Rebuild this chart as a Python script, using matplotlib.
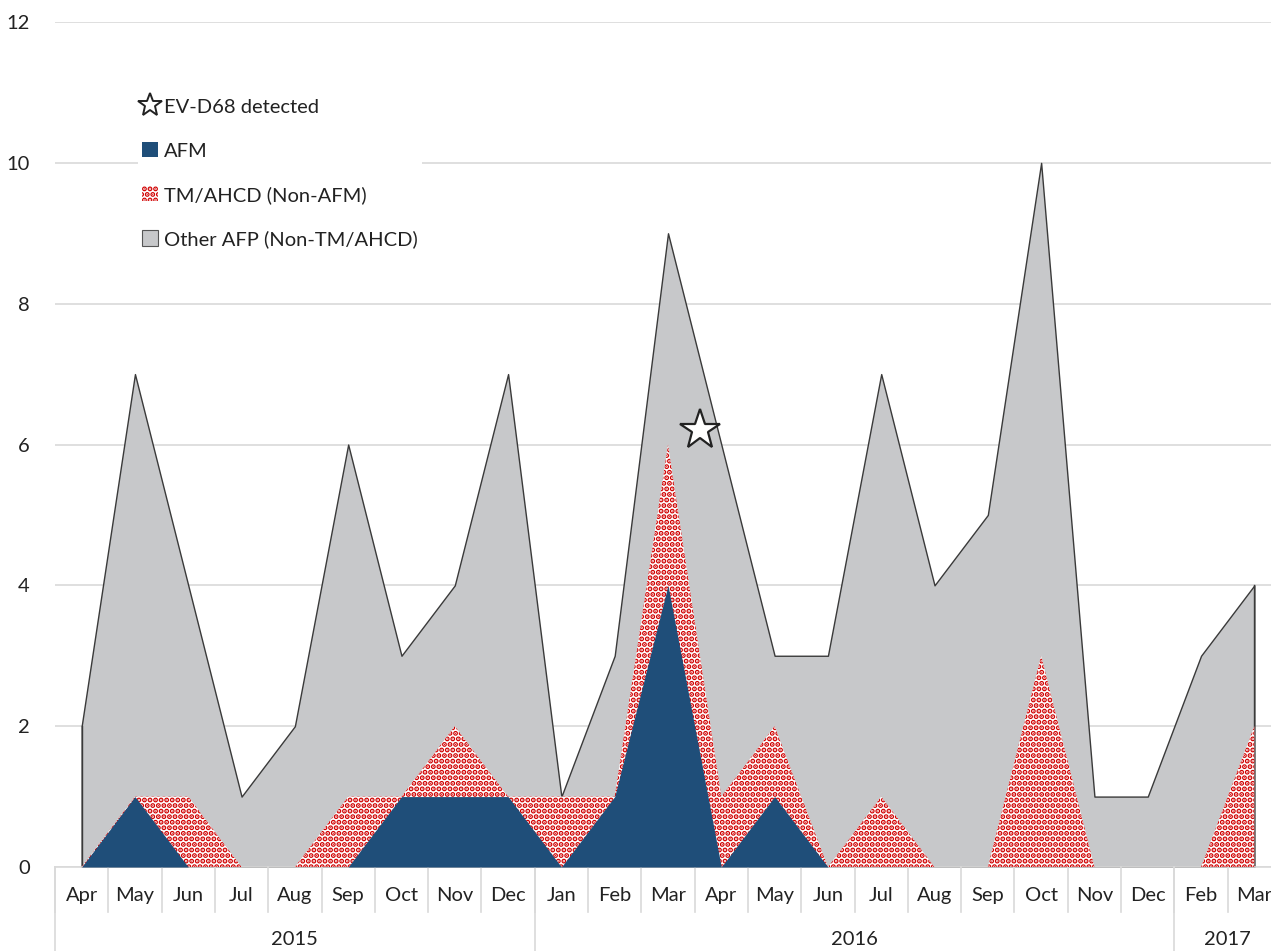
import matplotlib.pyplot as plt
from matplotlib.patches import Patch
from matplotlib.lines import Line2D

plt.rcParams['font.family'] = ['Lato', 'DejaVu Sans']
plt.rcParams['hatch.linewidth'] = 2.6

# data
months = ['Apr', 'May', 'Jun', 'Jul', 'Aug', 'Sep', 'Oct', 'Nov', 'Dec',
          'Jan', 'Feb', 'Mar', 'Apr', 'May', 'Jun', 'Jul', 'Aug', 'Sep', 'Oct', 'Nov', 'Dec',
          'Feb', 'Mar']
years = ['2015', '2016', '2017']
year_counts = [9, 12, 2]
other_afp = [2, 7, 4, 1, 2, 6, 3, 4, 7, 1, 3, 9, 6, 3, 3, 7, 4, 5, 10, 1, 1, 3, 4]
tm_ahcd = [0, 1, 1, 0, 0, 1, 1, 2, 1, 1, 1, 6, 1, 2, 0, 1, 0, 0, 3, 0, 0, 0, 2]
afm = [0, 1, 0, 0, 0, 0, 1, 1, 1, 0, 1, 4, 0, 1, 0, 0, 0, 0, 0, 0, 0, 0, 0]
ev_d68_x = 11.6
ev_d68_y = 6.2

x = list(range(len(months)))
FS = 14.5

fig = plt.figure(figsize=(12.71, 9.51), dpi=100)
ax = fig.add_axes([55 / 1271, 84 / 951, 1226 / 1271, 845 / 951])

# areas overlap (not stacked)
ax.fill_between(x, other_afp, color='#c7c8ca', edgecolor='#3a3a3a', linewidth=1.0, zorder=2)
ax.plot([x[0], x[0]], [0, other_afp[0]], color='#3a3a3a', lw=1.0, zorder=2)
ax.plot([x[-1], x[-1]], [0, other_afp[-1]], color='#3a3a3a', lw=1.0, zorder=2)
ax.fill_between(x, tm_ahcd, facecolor='white', edgecolor='#d00000', hatch='...',
                linewidth=0, zorder=3)
ax.fill_between(x, afm, color='#1f4e79', linewidth=0, zorder=4)
ax.plot([ev_d68_x], [ev_d68_y], marker='*', ms=30, mfc='white', mec='#222222', mew=1.6,
        zorder=5, clip_on=False)

ax.set_xlim(-0.5, len(months) - 0.5)
ax.set_ylim(0, 12)
ax.set_yticks(range(0, 13, 2))
ax.yaxis.grid(True, color='#d9d9d9', linewidth=1.2, zorder=0)
ax.set_axisbelow(True)
for s in ['top', 'right', 'left']:
    ax.spines[s].set_visible(False)
ax.spines['bottom'].set_color('#d9d9d9')
ax.spines['bottom'].set_linewidth(1.2)
ax.tick_params(axis='y', length=0, pad=18, labelsize=FS, labelcolor='#222222')
ax.set_xticks([])

# multi-level category axis
tr = ax.get_xaxis_transform()
for i, m in enumerate(months):
    ax.text(i, -0.034, m, transform=tr, ha='center', va='center', fontsize=FS, color='#222222')
for i in range(len(months) + 1):
    ax.plot([i - 0.5, i - 0.5], [0, -0.053], transform=tr, color='#d9d9d9', lw=1.2, clip_on=False)
start = 0
for yr, n in zip(years, year_counts):
    ax.plot([start - 0.5, start - 0.5], [0, -0.11], transform=tr, color='#d9d9d9', lw=1.2, clip_on=False)
    ax.text(start + (n - 1) / 2, -0.086, yr, transform=tr, ha='center', va='center',
            fontsize=FS, color='#222222')
    start += n

handles = [
    Line2D([], [], marker='*', ls='none', ms=18, mfc='white', mec='#222222', mew=1.4),
    Patch(facecolor='#1f4e79'),
    Patch(facecolor='white', edgecolor='#d00000', hatch='...', linewidth=0),
    Patch(facecolor='#c7c8ca', edgecolor='#555555', linewidth=0.8),
]
labels = ['EV-D68 detected', 'AFM', 'TM/AHCD (Non-AFM)', 'Other AFP (Non-TM/AHCD)']
leg = fig.legend(handles, labels, loc='upper left', bbox_to_anchor=(128 / 1271, 1 - 84 / 951),
                 frameon=True, facecolor='white', edgecolor='none', framealpha=1,
                 fontsize=FS, labelspacing=1.3, handlelength=0.8, handleheight=0.8,
                 handletextpad=0.3, borderpad=0.2, labelcolor='#222222')

fig.savefig('out.png', dpi=100)
